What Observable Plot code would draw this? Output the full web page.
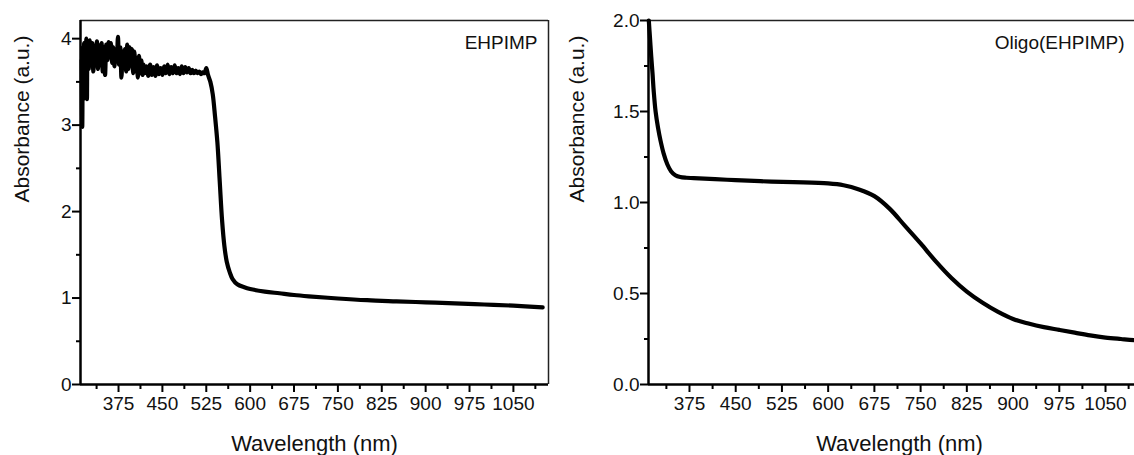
<!DOCTYPE html>
<html>
<head>
<meta charset="utf-8">
<script src="https://cdn.jsdelivr.net/npm/d3@7"></script>
<script src="https://cdn.jsdelivr.net/npm/@observablehq/plot@0.6"></script>
<style>
  html, body { margin: 0; padding: 0; background: #fff; overflow: hidden; }
  #wrap { position: relative; width: 1134px; height: 455px; overflow: hidden; background: #fff; }
  #wrap svg { position: absolute; top: 0; max-width: none !important; }
</style>
</head>
<body>
<div id="wrap"></div>
<script>
// ---- Left panel: EHPIMP ----
const wl1 = [312,313,314,315,316,318,320,321,322,324,326,328,330,332,334,336,338,340,342,344,346,348,350,352,354,356,358,360,362,364,366,368,370,372,374,376,378,380,382,384,386,388,390,392,394,396,398,400,402,404,406,408,410,412,414,416,418,420,423,426,429,432,435,438,441,444,447,450,453,456,459,462,465,468,471,474,477,480,483,486,489,492,495,498,501,504,507,510,513,516,519,522,525,528,532,536,540,544,548,552,556,560,565,570,578,590,600,625,650,675,700,750,800,850,900,950,1000,1050,1100];
const abs1 = [3.75,2.98,3.9,3.3,3.95,3.4,4.0,3.3,3.85,3.65,3.98,3.7,3.95,3.62,3.9,3.78,3.97,3.65,3.92,3.7,3.95,3.62,3.9,3.58,3.93,3.75,3.96,3.8,3.95,3.72,3.9,3.68,3.88,3.75,4.02,3.7,3.9,3.55,3.85,3.7,3.88,3.62,3.93,3.65,3.9,3.7,3.88,3.6,3.85,3.62,3.78,3.55,3.8,3.6,3.75,3.58,3.7,3.6,3.68,3.57,3.7,3.58,3.67,3.57,3.69,3.59,3.66,3.58,3.68,3.6,3.7,3.59,3.67,3.6,3.69,3.6,3.66,3.59,3.68,3.6,3.67,3.61,3.66,3.6,3.64,3.6,3.63,3.6,3.62,3.59,3.61,3.6,3.66,3.58,3.5,3.36,3.1,2.8,2.35,1.9,1.6,1.42,1.3,1.22,1.16,1.125,1.105,1.075,1.055,1.035,1.02,0.995,0.975,0.962,0.95,0.938,0.925,0.912,0.893];

// ---- Right panel: Oligo(EHPIMP) ----
const wl2 = [309,311,313,315,317,320,324,328,333,339,345,352,360,370,382,436,490,544,600,625,650,675,700,725,750,775,800,825,850,875,900,925,950,975,1000,1025,1050,1075,1100,1125];
const abs2 = [2.0,1.9,1.8,1.71,1.61,1.5,1.41,1.34,1.27,1.21,1.172,1.15,1.14,1.136,1.134,1.125,1.117,1.112,1.105,1.095,1.072,1.035,0.965,0.87,0.775,0.675,0.585,0.51,0.45,0.40,0.36,0.335,0.315,0.30,0.285,0.27,0.258,0.25,0.243,0.24];

// ---- Ticks and labels ----
const xMajor = [375,450,525,600,675,750,825,900,975,1050];
const xMinor = [337.5,412.5,487.5,562.5,637.5,712.5,787.5,862.5,937.5,1012.5,1087.5];
const y1Major = [0,1,2,3,4];
const y1Minor = [0.5,1.5,2.5,3.5];
const y2Major = [0,0.5,1.0,1.5,2.0];
const y2Minor = [0.25,0.75,1.25,1.75];
const xTitle = "Wavelength (nm)";
const yTitle = "Absorbance (a.u.)";
const name1 = "EHPIMP";
const name2 = "Oligo(EHPIMP)";

const FONT = "'Liberation Sans', Arial, Helvetica, sans-serif";

function panel({wl, ab, width, marginLeft, marginRight, xDomain, yDomain, yMajor, yMinor, yFmt, name, nameDx, yTitleDx, rightLine}) {
  const n = wl.length;
  return Plot.plot({
    width, height: 455,
    marginLeft, marginRight, marginTop: 20, marginBottom: 71,
    style: {fontFamily: FONT, fontSize: "19px", color: "#000", background: "transparent", overflow: "visible"},
    x: {domain: xDomain, label: null},
    y: {domain: yDomain, label: null},
    marks: [
      Plot.ruleY([yDomain[1]], {stroke: "#222", strokeWidth: 1.5}),
      rightLine ? Plot.ruleX([xDomain[1]], {stroke: "#222", strokeWidth: 1.5}) : null,
      Plot.axisX(xMajor, {tickSize: 8, tickPadding: 4, strokeWidth: 2, fontSize: 19, tickFormat: d3.format("d"), label: null, fill: "#111"}),
      Plot.axisX(xMinor, {tickSize: 5, strokeWidth: 2, tickFormat: () => "", label: null}),
      Plot.axisY(yMajor, {tickSize: 8, tickPadding: 1, strokeWidth: 2, fontSize: 19, tickFormat: yFmt, label: null, fill: "#111"}),
      Plot.axisY(yMinor, {tickSize: 4, strokeWidth: 2, tickFormat: () => "", label: null}),
      Plot.ruleY([yDomain[0]], {stroke: "#000", strokeWidth: 2.5}),
      Plot.ruleX([xDomain[0]], {stroke: "#000", strokeWidth: 2.5}),
      Plot.line({length: n}, {x: wl, y: ab, stroke: "#000", strokeWidth: 4.2, strokeLinejoin: "round", strokeLinecap: "round", curve: "catmull-rom"}),
      Plot.text([name], {frameAnchor: "top-right", dx: nameDx, dy: 22, fontSize: 19, lineAnchor: "middle", textAnchor: "end", fill: "#111"}),
      Plot.text([xTitle], {frameAnchor: "bottom", dy: 59, fontSize: 22, lineAnchor: "middle", fill: "#111"}),
      Plot.text([yTitle], {frameAnchor: "left", dx: yTitleDx, rotate: -90, fontSize: 21, lineAnchor: "middle", fill: "#111"})
    ]
  });
}

const left = panel({
  wl: wl1, ab: abs1, width: 560, marginLeft: 80, marginRight: 12,
  xDomain: [310, 1110], yDomain: [0, 4.21], yMajor: y1Major, yMinor: y1Minor,
  yFmt: d3.format("d"), name: name1, nameDx: -11, yTitleDx: -58, rightLine: true
});
left.style.left = "0px";

const right = panel({
  wl: wl2, ab: abs2, width: 590, marginLeft: 88, marginRight: 0,
  xDomain: [308.5, 1123], yDomain: [0, 2], yMajor: y2Major, yMinor: y2Minor,
  yFmt: d3.format(".1f"), name: name2, nameDx: -26, yTitleDx: -71, rightLine: false
});
right.style.left = "560px";

document.getElementById("wrap").append(left, right);
</script>
</body>
</html>
